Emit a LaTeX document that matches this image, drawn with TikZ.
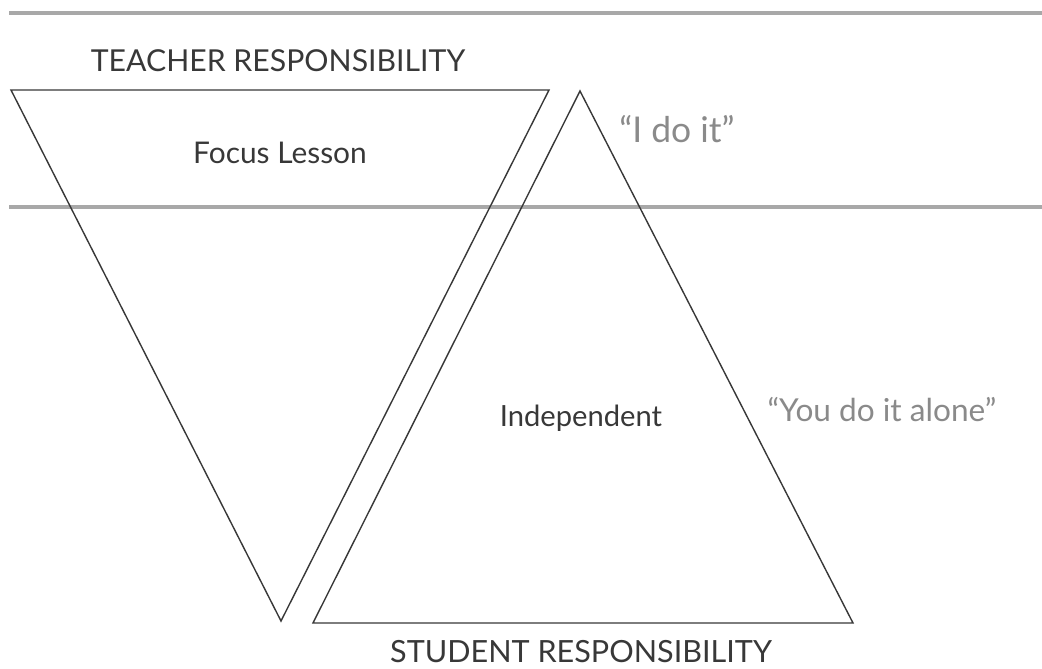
\documentclass[tikz,border=0pt]{standalone}
\usepackage{fontspec}
\setmainfont{Lato}
\usetikzlibrary{positioning}
\definecolor{inkcol}{HTML}{383838}
\definecolor{quotecol}{HTML}{8A8A8A}
\definecolor{rulecol}{HTML}{A8A8A8}
\tikzset{>=latex}
\begin{document}
\begin{tikzpicture}[x=0.02cm,y=-0.02cm]
\useasboundingbox (0,0) rectangle (1042,669);

% Separator lines
\draw[rulecol,line width=2.2pt] (9,13) -- (1042,13);
\draw[rulecol,line width=2.2pt] (9,207) -- (1042,207);

% Teacher triangle (pointing down)
\draw[inkcol,line width=0.8pt,line join=miter] (11,90) -- (549,90) -- (281,621) -- cycle;

% Student triangle (pointing up)
\draw[inkcol,line width=0.8pt,line join=miter] (580,91) -- (853,623) -- (313,623) -- cycle;

% Labels
\node[inkcol,font=\fontsize{17.2}{20}\selectfont] (teacher) at (278,61) {TEACHER RESPONSIBILITY};
\node[inkcol,font=\fontsize{17}{20}\selectfont] (focus) at (280,153) {Focus Lesson};
\node[quotecol,font=\fontsize{20.2}{24}\selectfont] (ido) at (677,129) {``I do it''};
\node[inkcol,font=\fontsize{16.6}{20}\selectfont] (indep) at (581,418) {Independent};
\node[quotecol,font=\fontsize{18}{22}\selectfont] (youdo) at (882,410) {``You do it alone''};
\node[inkcol,font=\fontsize{17.4}{20}\selectfont] (student) at (581,652) {STUDENT RESPONSIBILITY};

\end{tikzpicture}
\end{document}
